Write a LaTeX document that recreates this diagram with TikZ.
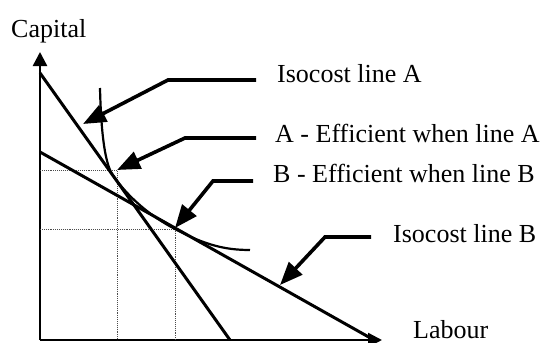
\documentclass[tikz,border=0pt]{standalone}
\usepackage{fontspec}
\setmainfont{Liberation Serif}
\usetikzlibrary{arrows.meta}
\begin{document}
\begin{tikzpicture}[x=1pt,y=-1pt,
  lbl/.style={anchor=base west,inner sep=0pt,font=\fontsize{26}{30}\selectfont},
  axis/.style={line width=2.4pt,-{Triangle[length=14pt,width=14pt]}},
  isocost/.style={line width=3pt},
  isoquant/.style={line width=2.2pt},
  guide/.style={line width=0.9pt,densely dotted,black!70},
  leader/.style={line width=3.6pt,-{Triangle[length=23pt,width=18pt]}}]
\useasboundingbox (0,0) rectangle (550,343);
% axes
\coordinate (O) at (40,340);
\coordinate (ytop) at (40,52);
\coordinate (xend) at (382,340);
\draw[axis] (O) -- (ytop);
\draw[axis] (O) -- (xend);
\node[lbl] (cap) at (11,37) {Capital};
\node[lbl] (lab) at (413,338) {Labour};
% guides
\coordinate (PA) at (117,170);
\coordinate (PB) at (175,229);
\draw[guide] (40,170) -- (PA) -- (117,340);
\draw[guide] (40,229) -- (PB) -- (175,340);
% isocost lines
\coordinate (A0) at (40,73);
\coordinate (A1) at (230,340);
\coordinate (B0) at (40,152);
\coordinate (B1) at (374,340);
\draw[isocost] (A0) -- (A1);
\draw[isocost] (B0) -- (B1);
% isoquant
\coordinate (Q0) at (100,88);
\coordinate (TA) at (113,175.5);
\coordinate (Q1) at (250,250);
\draw[isoquant] (Q0) .. controls (101,130) and (104.5,163.5) .. (TA)
  .. controls (128,197) and (150,216) .. (PB)
  .. controls (205,245) and (225,250) .. (Q1);
% labels
\node[lbl] (tA) at (277,82) {Isocost line A};
\node[lbl] (tEA) at (275,142) {A - Efficient when line A};
\node[lbl] (tEB) at (273,182) {B - Efficient when line B};
\node[lbl] (tB) at (393,242) {Isocost line B};
% leaders
\coordinate (a1) at (256,80);  \coordinate (a2) at (168,80);  \coordinate (a3) at (83,124);
\coordinate (b1) at (256,138); \coordinate (b2) at (185,138); \coordinate (b3) at (117,170);
\coordinate (c1) at (253,181); \coordinate (c2) at (213,181); \coordinate (c3) at (175,228);
\coordinate (d1) at (371,237); \coordinate (d2) at (325,237); \coordinate (d3) at (280,285);
\draw[leader] (a1) -- (a2) -- (a3);
\draw[leader] (b1) -- (b2) -- (b3);
\draw[leader] (c1) -- (c2) -- (c3);
\draw[leader] (d1) -- (d2) -- (d3);
\end{tikzpicture}
\end{document}
